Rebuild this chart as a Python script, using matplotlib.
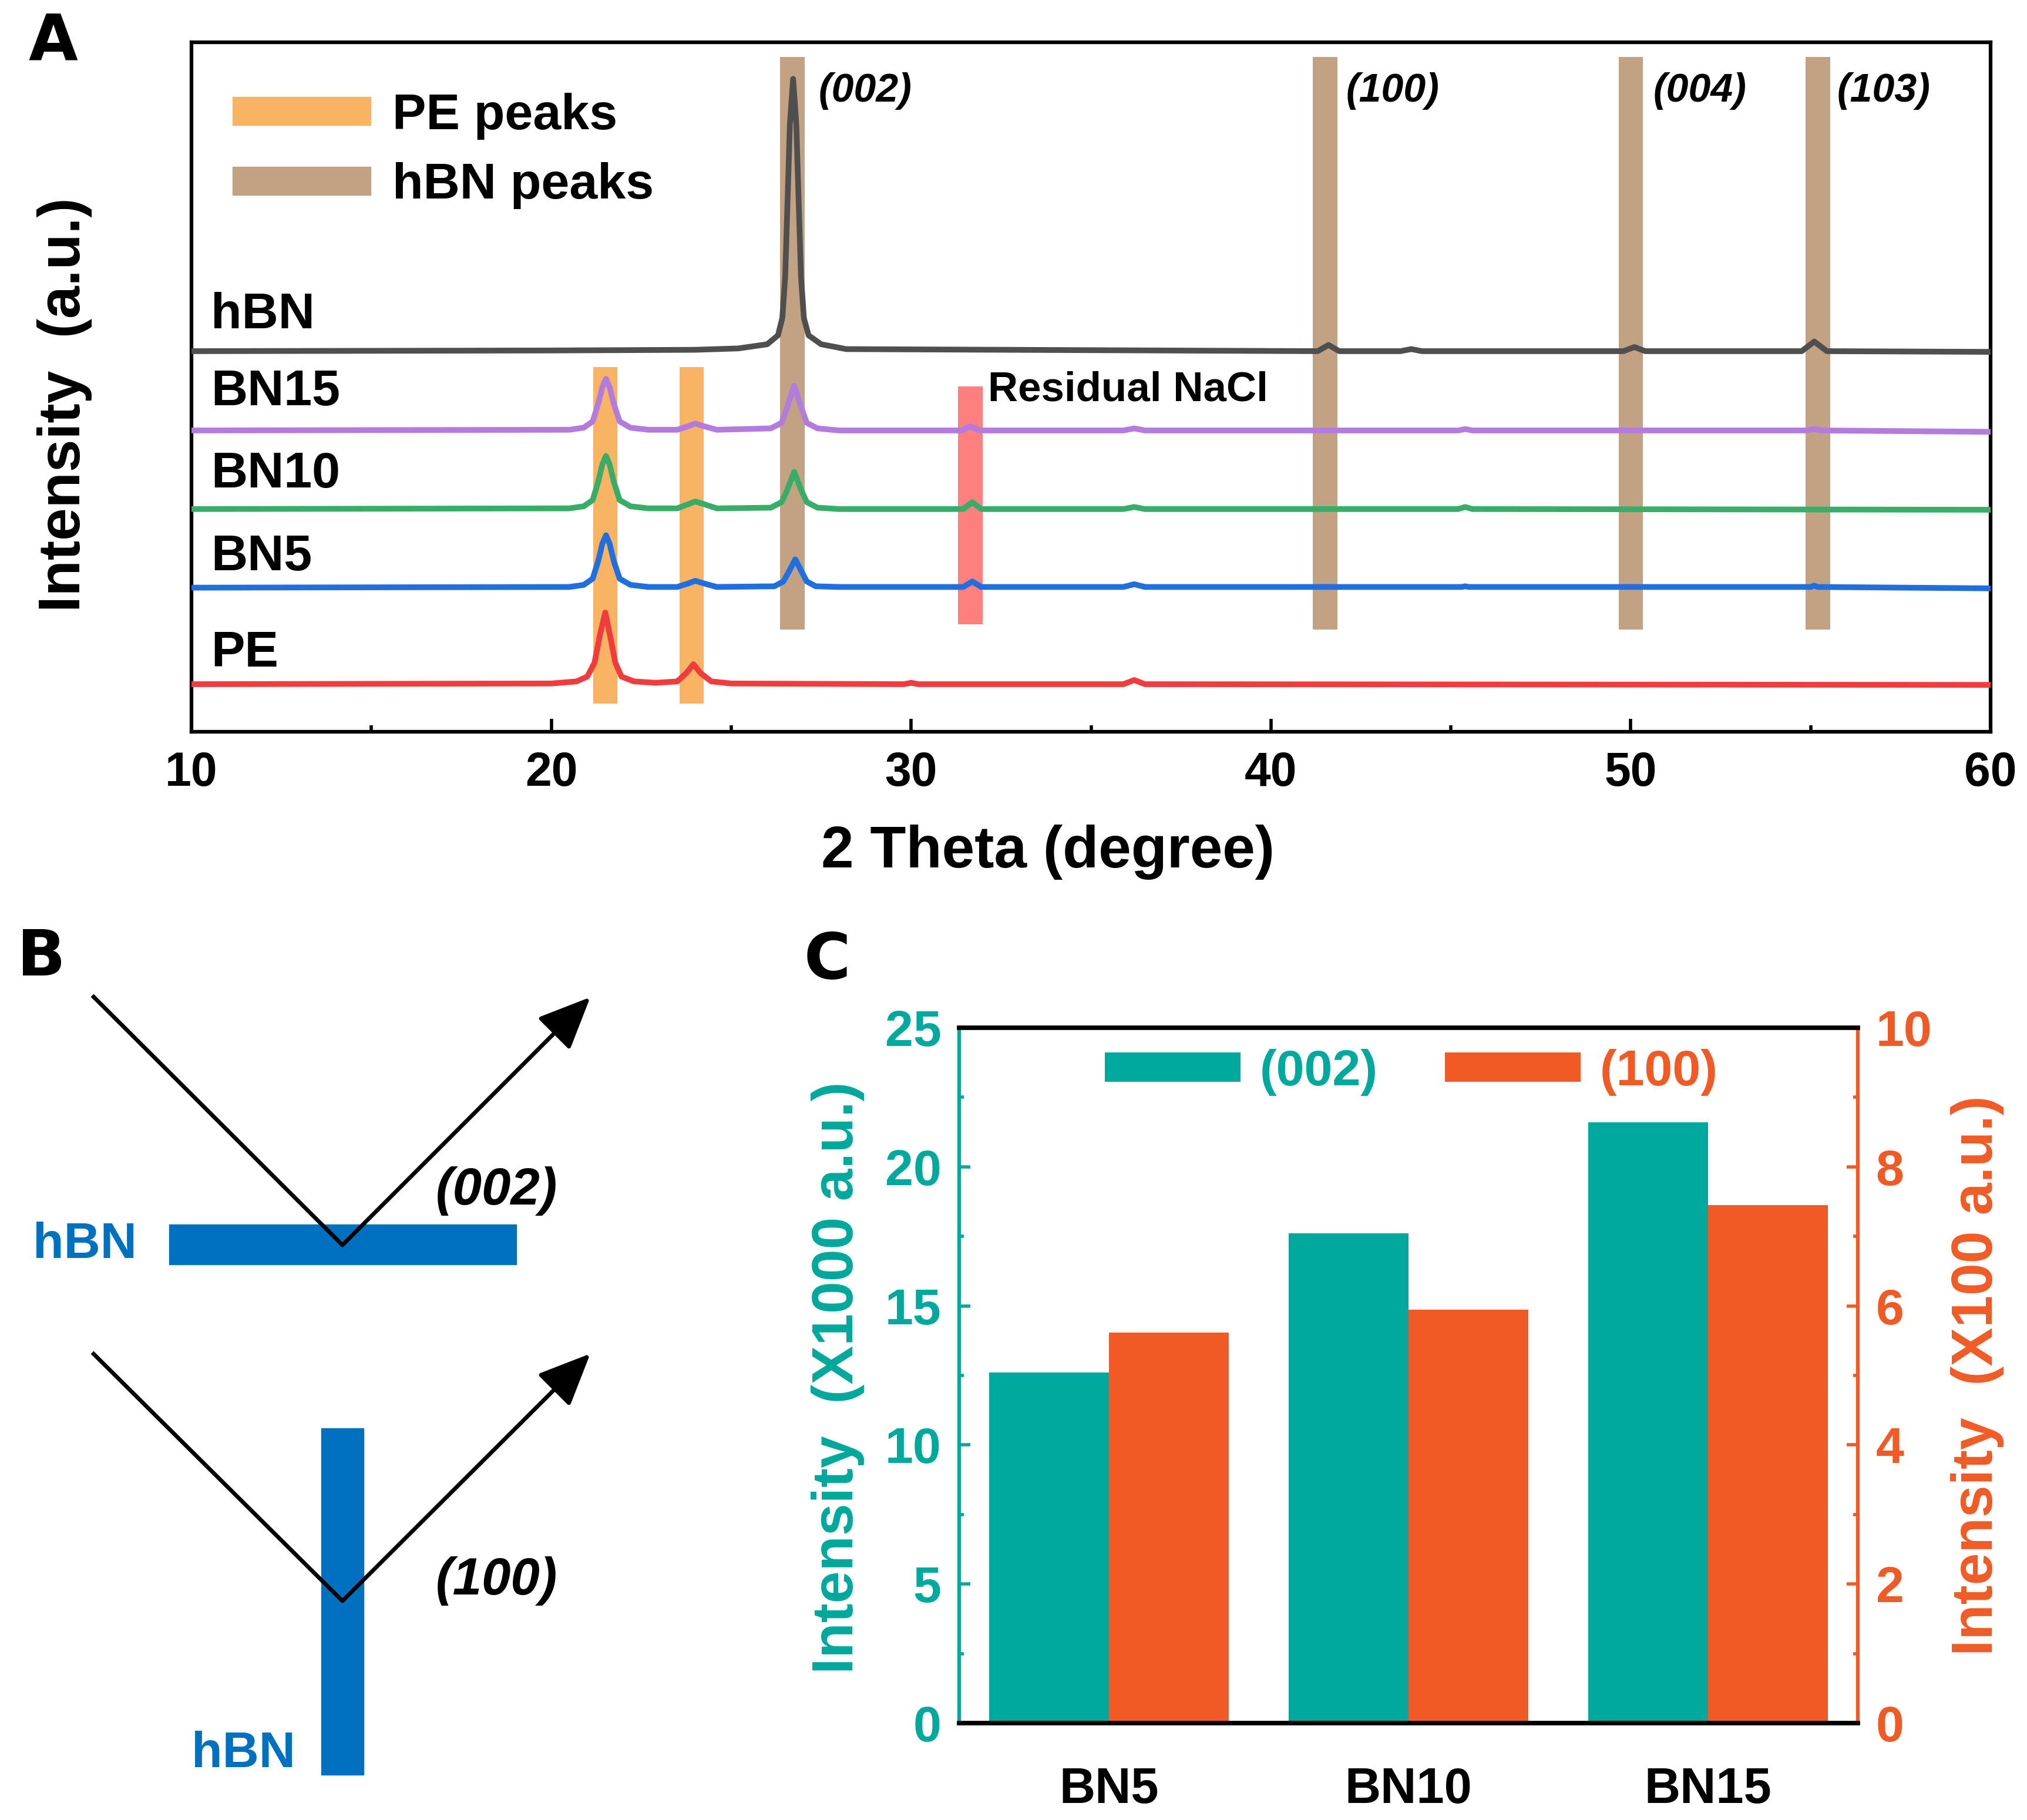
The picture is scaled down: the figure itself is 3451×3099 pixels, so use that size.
import matplotlib
matplotlib.use('Agg')
import matplotlib.pyplot as plt
import matplotlib.patches as mpatches
from matplotlib.ticker import MultipleLocator

# ---------------- data ----------------
# panel A: XRD patterns, stacked, y in arbitrary units (0..1 of the axis)
hbn_x = [10, 20, 24, 25.2, 26.0, 26.3, 26.42, 26.5, 26.56, 26.63, 26.72, 26.81, 26.88, 26.94, 27.02,
         27.15, 27.5, 28.2, 41.3, 41.6, 41.9, 43.6, 43.9, 44.2, 49.8, 50.1, 50.4, 54.75, 55.1, 55.45, 60]
hbn_y = [0.552, 0.553, 0.554, 0.556, 0.562, 0.575, 0.600, 0.660, 0.760, 0.880, 0.947, 0.880, 0.760, 0.660, 0.600,
         0.575, 0.562, 0.555, 0.552, 0.561, 0.552, 0.552, 0.555, 0.552, 0.552, 0.558, 0.552, 0.552, 0.566, 0.552, 0.551]

bn15_x = [10, 20.5, 20.9, 21.15, 21.3, 21.42, 21.52, 21.62, 21.74, 21.9, 22.2, 22.7, 23.5, 23.8, 24.0, 24.25, 24.6,
          26.1, 26.4, 26.55, 26.75, 26.95, 27.1, 27.4, 28.0, 31.4, 31.65, 31.9, 35.9, 36.2, 36.5,
          45.2, 45.4, 45.6, 54.9, 55.1, 55.3, 60]
bn15_y = [0.437, 0.438, 0.441, 0.450, 0.475, 0.500, 0.512, 0.500, 0.475, 0.450, 0.441, 0.438, 0.438, 0.443, 0.447, 0.443, 0.438,
          0.440, 0.448, 0.470, 0.502, 0.470, 0.448, 0.440, 0.437, 0.437, 0.443, 0.437, 0.437, 0.440, 0.437,
          0.437, 0.439, 0.437, 0.437, 0.439, 0.437, 0.435]

bn10_x = [10, 20.5, 20.9, 21.15, 21.3, 21.42, 21.52, 21.62, 21.74, 21.9, 22.2, 22.7, 23.5, 23.8, 24.0, 24.25, 24.6,
          26.1, 26.4, 26.55, 26.75, 26.95, 27.1, 27.4, 28.0, 31.45, 31.7, 31.95, 35.9, 36.2, 36.5,
          45.2, 45.4, 45.6, 60]
bn10_y = [0.323, 0.324, 0.327, 0.336, 0.362, 0.388, 0.400, 0.388, 0.362, 0.336, 0.327, 0.324, 0.324, 0.330, 0.334, 0.330, 0.324,
          0.325, 0.333, 0.350, 0.377, 0.350, 0.333, 0.325, 0.323, 0.323, 0.333, 0.323, 0.323, 0.326, 0.323,
          0.323, 0.326, 0.323, 0.322]

bn5_x = [10, 20.5, 20.9, 21.15, 21.3, 21.42, 21.52, 21.62, 21.74, 21.9, 22.2, 22.7, 23.5, 23.8, 24.0, 24.25, 24.6,
         26.2, 26.45, 26.6, 26.78, 26.96, 27.1, 27.35, 28.0, 31.45, 31.7, 31.95, 35.9, 36.2, 36.5,
         45.3, 45.4, 45.5, 55.0, 55.1, 55.2, 60]
bn5_y = [0.209, 0.210, 0.213, 0.222, 0.247, 0.273, 0.285, 0.273, 0.247, 0.222, 0.213, 0.210, 0.210, 0.215, 0.219, 0.215, 0.210,
         0.211, 0.218, 0.232, 0.250, 0.232, 0.218, 0.211, 0.210, 0.210, 0.218, 0.210, 0.210, 0.214, 0.210,
         0.210, 0.211, 0.210, 0.210, 0.212, 0.210, 0.208]

pe_x = [10, 20.0, 20.7, 21.0, 21.2, 21.35, 21.5, 21.63, 21.78, 21.95, 22.3, 22.9, 23.5, 23.75, 23.95, 24.15, 24.45,
        25.0, 29.8, 30.0, 30.2, 35.9, 36.2, 36.5, 60]
pe_y = [0.069, 0.070, 0.073, 0.080, 0.100, 0.140, 0.173, 0.140, 0.100, 0.080, 0.073, 0.071, 0.073, 0.085, 0.098, 0.085, 0.073,
        0.070, 0.069, 0.071, 0.069, 0.069, 0.075, 0.069, 0.068]

trace_names = ['hBN', 'BN15', 'BN10', 'BN5', 'PE']
trace_label_y = [0.604, 0.492, 0.373, 0.253, 0.113]

pe_bands = [21.5, 23.9]
hbn_bands = [26.7, 41.5, 50.0, 55.2]
hkl_labels = ['(002)', '(100)', '(004)', '(103)']
hkl_label_x = [27.42, 42.08, 50.62, 55.73]
nacl_bands = [31.65]

# panel C: peak intensities
samples = ['BN5', 'BN10', 'BN15']
i002 = [12.6, 17.6, 21.6]     # x1000 a.u.
i100 = [5.62, 5.95, 7.45]     # x100 a.u.

# ---------------- style ----------------
W, H = 3451, 3099
FONT = ['Liberation Sans', 'DejaVu Sans']
plt.rcParams['font.family'] = FONT
plt.rcParams['font.weight'] = 'bold'
plt.rcParams['axes.labelweight'] = 'bold'
plt.rcParams['axes.linewidth'] = 4.5

c_orange_band = '#F9B463'
c_tan_band = '#C2A282'
c_nacl = '#FF7F7F'
trace_colors = ['#4F4F4F', '#B47BDE', '#38AD68', '#1F6FE0', '#F03C3C']
teal = '#00A99D'
red_or = '#F15A24'
blue = '#0070C0'

fig = plt.figure(figsize=(W / 100, H / 100), dpi=100)

# ---------------- panel A ----------------
axA = fig.add_axes([326 / W, 1 - 1246 / H, 3063 / W, 1174 / H])
bw = 0.68
axA.bar(pe_bands, 0.529 - 0.041, bottom=0.041, width=bw, color=c_orange_band, zorder=1)
axA.bar(hbn_bands, 0.979 - 0.148, bottom=0.148, width=bw, color=c_tan_band, zorder=1)
axA.bar(nacl_bands, 0.501 - 0.156, bottom=0.156, width=bw, color=c_nacl, zorder=1)

xs = [hbn_x, bn15_x, bn10_x, bn5_x, pe_x]
ys = [hbn_y, bn15_y, bn10_y, bn5_y, pe_y]
for x, y, c in zip(xs, ys, trace_colors):
    axA.plot(x, y, color=c, lw=7, zorder=3, solid_joinstyle='round')

for name, ty in zip(trace_names, trace_label_y):
    axA.text(10.54, ty, name, fontsize=62, ha='left', va='center', zorder=4)
for lab, lx in zip(hkl_labels, hkl_label_x):
    axA.text(lx, 0.929, lab, fontsize=49, style='italic', ha='left', va='center', zorder=4)
axA.text(32.13, 0.495, 'Residual NaCl', fontsize=51, ha='left', va='center', zorder=4)

axA.set_xlim(10, 60)
axA.set_ylim(0, 1)
axA.set_yticks([])
axA.xaxis.set_major_locator(MultipleLocator(10))
axA.xaxis.set_minor_locator(MultipleLocator(5))
axA.tick_params(axis='x', which='major', direction='in', length=16, width=4, labelsize=58, pad=24)
axA.tick_params(axis='x', which='minor', direction='in', length=8, width=4)
axA.set_xlabel('2 Theta (degree)', fontsize=72)
axA.xaxis.label.set_va('center')
axA.xaxis.set_label_coords(0.476, -0.175)
axA.set_ylabel('Intensity  (a.u.)', fontsize=72)
axA.yaxis.label.set_va('center')
axA.yaxis.set_label_coords(-0.0705, 0.474)

legA = axA.legend(handles=[mpatches.Patch(color=c_orange_band, label='PE peaks'),
                           mpatches.Patch(color=c_tan_band, label='hBN peaks')],
                  loc='upper left', bbox_to_anchor=(0.0229, 0.927), frameon=False, fontsize=62,
                  borderpad=0, borderaxespad=0, handlelength=2.73, handleheight=0.47,
                  handletextpad=0.43, labelspacing=0.45)

# ---------------- panel C ----------------
axC = fig.add_axes([1633 / W, 1 - 2934 / H, 1530 / W, 1184 / H])
axC2 = axC.twinx()
xpos = list(range(len(samples)))
axC.bar([p - 0.2 for p in xpos], i002, width=0.4, color=teal, label='(002)')
axC2.bar([p + 0.2 for p in xpos], i100, width=0.4, color=red_or, label='(100)')

axC.set_xlim(-0.5, 2.5)
axC.set_ylim(0, 25)
axC2.set_ylim(0, 10)
axC.set_xticks(xpos)
axC.set_xticklabels(samples)
axC.tick_params(axis='x', length=0, labelsize=61, pad=53)
axC.yaxis.set_major_locator(MultipleLocator(5))
axC.yaxis.set_minor_locator(MultipleLocator(2.5))
axC2.yaxis.set_major_locator(MultipleLocator(2))
axC2.yaxis.set_minor_locator(MultipleLocator(1))
axC.tick_params(axis='y', which='major', direction='in', length=14, width=4, color=teal,
                labelcolor=teal, labelsize=62, pad=22)
axC.tick_params(axis='y', which='minor', direction='in', length=6, width=4, color=teal)
axC2.tick_params(axis='y', which='major', direction='in', length=14, width=4, color=red_or,
                 labelcolor=red_or, labelsize=62, pad=22)
axC2.tick_params(axis='y', which='minor', direction='in', length=6, width=4, color=red_or)
axC.spines['left'].set_color(teal)
axC.spines['right'].set_visible(False)
axC2.spines['left'].set_visible(False)
axC2.spines['right'].set_color(red_or)
for sp in ['top', 'bottom']:
    axC2.spines[sp].set_linewidth(5.5)

axC.set_ylabel('Intensity  (X1000 a.u.)', fontsize=71, color=teal)
axC.yaxis.label.set_va('center')
axC.yaxis.set_label_coords(-0.135, 0.497)
axC2.set_ylabel('Intensity  (X100 a.u.)', fontsize=71, color=red_or, rotation=90)
axC2.yaxis.label.set_va('center')
axC2.yaxis.set_label_coords(1.133, 0.5)

h1, l1 = axC.get_legend_handles_labels()
h2, l2 = axC2.get_legend_handles_labels()
legC = axC2.legend(h1 + h2, l1 + l2, loc='center left', bbox_to_anchor=(0.162, 0.936), ncol=2,
                   frameon=False, fontsize=62, borderpad=0, borderaxespad=0, handlelength=2.68,
                   handleheight=0.51, handletextpad=0.38, columnspacing=1.33)
for t, c in zip(legC.get_texts(), [teal, red_or]):
    t.set_color(c)

# ---------------- panel B (schematic) + panel letters, pixel coordinates ----------------
axB = fig.add_axes([0, 0, 1, 1])
axB.set_xlim(0, W)
axB.set_ylim(H, 0)
axB.axis('off')

axB.add_patch(mpatches.Rectangle((288, 2085), 879 - 288, 2153 - 2085, color=blue, zorder=1))
axB.add_patch(mpatches.Rectangle((547, 2432), 619 - 547, 3022 - 2432, color=blue, zorder=1))
for y0, yv, yt in [(1695, 2120, 1698), (2303, 2726, 2305)]:
    axB.plot([157, 583], [y0, yv], color='black', lw=5, solid_capstyle='butt', zorder=2)
    axB.annotate('', xy=(1005, yt), xytext=(583, yv),
                 arrowprops=dict(arrowstyle='-|>,head_length=0.5,head_width=0.22', color='black',
                                 lw=5, mutation_scale=110, shrinkA=0, shrinkB=0), zorder=2)
axB.text(56, 2120, 'hBN', fontsize=62, color=blue, ha='left', va='center')
axB.text(326, 2987, 'hBN', fontsize=62, color=blue, ha='left', va='center')
axB.text(742, 2028, '(002)', fontsize=64, style='italic', ha='left', va='center')
axB.text(742, 2692, '(100)', fontsize=64, style='italic', ha='left', va='center')

for lx, ly, lt in [(48, 72, 'A'), (29, 1631, 'B'), (1369, 1636, 'C')]:
    axB.text(lx, ly, lt, family='DejaVu Sans', fontweight='heavy', fontsize=78, ha='left', va='center')

fig.savefig('out.png', dpi=100)
